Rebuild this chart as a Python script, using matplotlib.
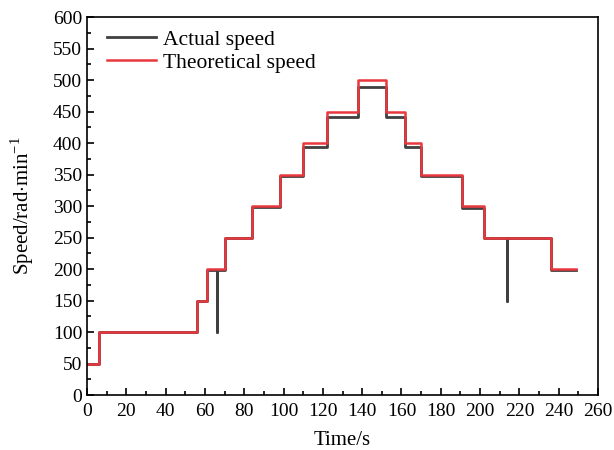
import matplotlib
matplotlib.use("Agg")
import matplotlib.pyplot as plt
from matplotlib.ticker import MultipleLocator

plt.rcParams['font.family'] = ['Liberation Serif', 'DejaVu Serif']
plt.rcParams['mathtext.fontset'] = 'custom'
plt.rcParams['mathtext.rm'] = 'Liberation Serif'

# step edges (s) and theoretical levels
step_times = [0, 6, 56, 61, 70, 84, 98, 110, 122, 138, 152, 162, 170, 191, 202, 236, 249]
theory_levels = [50, 100, 150, 200, 250, 300, 350, 400, 450, 500, 450, 400, 350, 300, 250, 200]
actual_levels = [50, 100, 150, 199, 249, 298, 347, 393, 442, 489, 441, 393, 347, 297, 249, 198]
# disturbance spikes in actual speed: time, dip value
spike_times = [66, 213.5]
spike_values = [100, 150]

def step_xy(times, levels):
    xs, ys = [], []
    for i, v in enumerate(levels):
        xs += [times[i], times[i + 1]]
        ys += [v, v]
    return xs, ys

ax_x, ax_y = step_xy(step_times, actual_levels)
# insert spikes
for st, sv in zip(spike_times, spike_values):
    for j in range(len(ax_x) - 1):
        if ax_x[j] <= st < ax_x[j + 1] and ax_y[j] == ax_y[j + 1]:
            lv = ax_y[j]
            ax_x[j + 1:j + 1] = [st, st, st, st]
            ax_y[j + 1:j + 1] = [lv, sv, sv, lv]
            break

th_x, th_y = step_xy(step_times, theory_levels)

fig = plt.figure(figsize=(6.14, 4.5), dpi=100)
ax = fig.add_axes([0.1417, 0.1222, 0.8323, 0.8398])
ax.plot(ax_x, ax_y, color='#404040', lw=2.0, label='Actual speed')
ax.plot(th_x, th_y, color='#e8383d', lw=1.8, label='Theoretical speed')

ax.set_xlim(0, 260)
ax.set_ylim(0, 600)
ax.xaxis.set_major_locator(MultipleLocator(20))
ax.xaxis.set_minor_locator(MultipleLocator(10))
ax.yaxis.set_major_locator(MultipleLocator(50))
ax.yaxis.set_minor_locator(MultipleLocator(25))
ax.tick_params(which='both', direction='in', labelsize=14, width=1.2)
ax.tick_params(which='major', length=5)
ax.tick_params(which='minor', length=3)
ax.tick_params(axis='x', pad=6)
for s in ax.spines.values():
    s.set_linewidth(1.2)

ax.set_xlabel('Time/s', fontsize=15, labelpad=8)
ax.set_ylabel('Speed/rad$\\cdot$min$^{-1}$', fontsize=15, labelpad=12)
ax.legend(loc='upper left', frameon=False, fontsize=15.5, handlelength=2.3,
          handletextpad=0.3, borderaxespad=0.0, labelspacing=0.15,
          bbox_to_anchor=(0.022, 0.99))

fig.savefig('out.png', dpi=100)
